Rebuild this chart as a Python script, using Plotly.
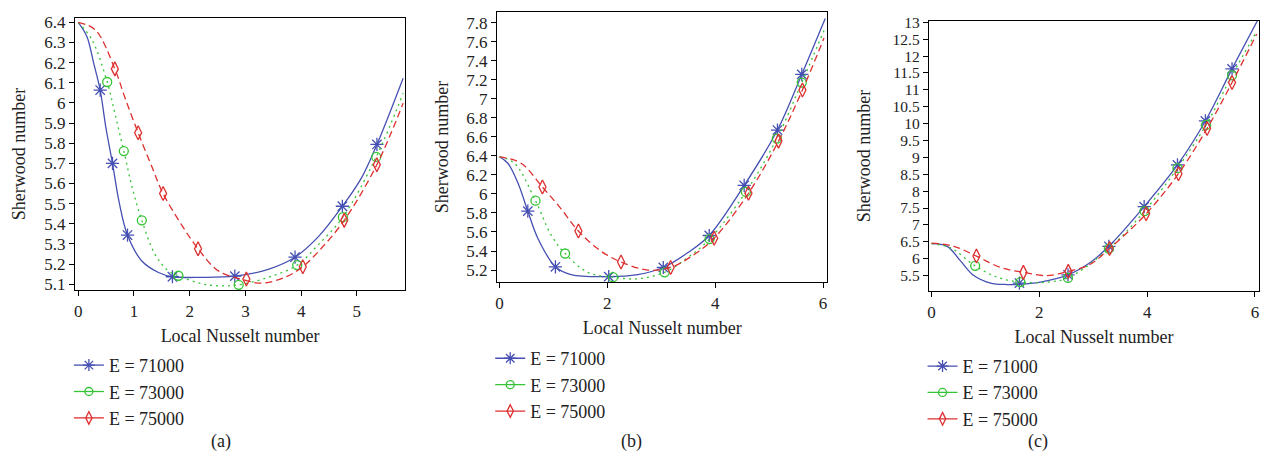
import plotly.graph_objects as go

# ---------------- data ----------------
series_names = ["E = 71000", "E = 73000", "E = 75000"]

# Panel (a)
a_blue_curve_x = [0, 0.155, 0.275, 0.394, 0.496, 0.615, 0.735, 0.884, 1.141, 1.44, 1.69, 2.216, 2.81, 3.41, 3.89, 4.31, 4.74, 5.08, 5.36, 5.83]
a_blue_curve_y = [6.4, 6.33, 6.20, 6.064, 5.878, 5.70, 5.506, 5.344, 5.215, 5.158, 5.137, 5.134, 5.14, 5.174, 5.234, 5.336, 5.487, 5.627, 5.794, 6.123]
a_blue_mark_x = [0.394, 0.615, 0.884, 1.69, 2.81, 3.89, 4.74, 5.36]
a_blue_mark_y = [6.064, 5.70, 5.344, 5.137, 5.14, 5.234, 5.487, 5.794]

a_green_curve_x = [0, 0.245, 0.52, 0.663, 0.818, 0.962, 1.141, 1.38, 1.619, 1.798, 2.216, 2.515, 2.879, 3.41, 3.93, 4.307, 4.749, 5.347, 5.83]
a_green_curve_y = [6.4, 6.314, 6.104, 5.942, 5.761, 5.587, 5.417, 5.247, 5.166, 5.142, 5.102, 5.092, 5.097, 5.134, 5.195, 5.296, 5.433, 5.732, 6.048]
a_green_mark_x = [0.52, 0.818, 1.141, 1.798, 2.879, 3.93, 4.749, 5.347]
a_green_mark_y = [6.104, 5.761, 5.417, 5.142, 5.097, 5.195, 5.433, 5.732]

a_red_curve_x = [0, 0.305, 0.657, 0.842, 1.075, 1.32, 1.523, 1.858, 2.15, 2.515, 3.017, 3.29, 3.71, 4.03, 4.367, 4.773, 5.358, 5.83]
a_red_curve_y = [6.4, 6.363, 6.169, 6.023, 5.852, 5.684, 5.550, 5.393, 5.276, 5.166, 5.118, 5.105, 5.134, 5.187, 5.28, 5.417, 5.693, 5.999]
a_red_mark_x = [0.657, 1.075, 1.523, 2.15, 3.017, 4.03, 4.773, 5.358]
a_red_mark_y = [6.169, 5.852, 5.550, 5.276, 5.126, 5.187, 5.417, 5.693]

# Panel (b)
b_blue_curve_x = [0, 0.154, 0.34, 0.525, 0.71, 1.037, 1.327, 2.025, 2.562, 3.037, 3.488, 3.889, 4.537, 5.154, 5.605, 6.04]
b_blue_curve_y = [6.39, 6.322, 6.117, 5.819, 5.535, 5.234, 5.152, 5.131, 5.152, 5.227, 5.381, 5.563, 6.089, 6.671, 7.256, 7.844]
b_blue_mark_x = [0.525, 1.037, 2.025, 3.037, 3.889, 4.537, 5.154, 5.605]
b_blue_mark_y = [5.819, 5.234, 5.131, 5.227, 5.563, 6.089, 6.671, 7.256]

b_green_curve_x = [0, 0.278, 0.667, 0.957, 1.216, 1.636, 2.105, 2.562, 3.062, 3.488, 3.895, 4.568, 5.142, 5.605, 6.018]
b_green_curve_y = [6.39, 6.322, 5.929, 5.569, 5.374, 5.176, 5.125, 5.108, 5.176, 5.33, 5.525, 6.021, 6.582, 7.17, 7.718]
b_green_mark_x = [0.667, 1.216, 2.105, 3.062, 3.895, 4.568, 5.142, 5.605]
b_green_mark_y = [5.929, 5.374, 5.125, 5.176, 5.525, 6.021, 6.582, 7.17]

b_red_curve_x = [0, 0.401, 0.796, 1.142, 1.463, 1.883, 2.253, 2.747, 3.173, 3.611, 3.981, 4.617, 5.173, 5.617, 6.018]
b_red_curve_y = [6.39, 6.322, 6.072, 5.843, 5.61, 5.398, 5.285, 5.2, 5.227, 5.364, 5.535, 6.007, 6.555, 7.092, 7.639]
b_red_mark_x = [0.796, 1.463, 2.253, 3.173, 3.981, 4.617, 5.173, 5.617]
b_red_mark_y = [6.072, 5.61, 5.285, 5.227, 5.535, 6.007, 6.555, 7.092]

# Panel (c)
c_blue_curve_x = [0, 0.29, 0.537, 0.784, 1.093, 1.40, 1.63, 2.019, 2.531, 2.944, 3.29, 3.944, 4.562, 5.08, 5.574, 6.043]
c_blue_curve_y = [6.445, 6.367, 5.934, 5.5, 5.278, 5.235, 5.24, 5.307, 5.519, 5.885, 6.367, 7.543, 8.777, 10.079, 11.621, 13.04]
c_blue_mark_x = [1.63, 2.531, 3.29, 3.944, 4.562, 5.08, 5.574]
c_blue_mark_y = [5.278, 5.519, 6.367, 7.543, 8.777, 10.079, 11.621]

c_green_curve_x = [0, 0.352, 0.809, 1.216, 1.648, 2.142, 2.531, 3.29, 3.951, 4.562, 5.093, 5.574, 6.031]
c_green_curve_y = [6.445, 6.319, 5.789, 5.452, 5.307, 5.307, 5.432, 6.3, 7.409, 8.681, 9.963, 11.429, 12.73]
c_green_mark_x = [0.809, 1.648, 2.531, 3.29, 3.951, 4.562, 5.093, 5.574]
c_green_mark_y = [5.789, 5.307, 5.432, 6.3, 7.409, 8.681, 9.963, 11.429]

c_red_curve_x = [0, 0.414, 0.833, 1.278, 1.704, 2.142, 2.537, 2.944, 3.302, 3.981, 4.58, 5.111, 5.574, 6.031]
c_red_curve_y = [6.464, 6.367, 6.078, 5.741, 5.596, 5.5, 5.625, 5.837, 6.3, 7.331, 8.517, 9.857, 11.217, 12.65]
c_red_mark_x = [0.833, 1.704, 2.537, 3.302, 3.981, 4.58, 5.111, 5.574]
c_red_mark_y = [6.078, 5.596, 5.625, 6.3, 7.331, 8.517, 9.857, 11.217]

a_yticks = [5.1, 5.2, 5.3, 5.4, 5.5, 5.6, 5.7, 5.8, 5.9, 6, 6.1, 6.2, 6.3, 6.4]
b_yticks = [5.2, 5.4, 5.6, 5.8, 6, 6.2, 6.4, 6.6, 6.8, 7, 7.2, 7.4, 7.6, 7.8]
c_yticks = [5.5, 6, 6.5, 7, 7.5, 8, 8.5, 9, 9.5, 10, 10.5, 11, 11.5, 12, 12.5, 13]
a_xticks = [0, 1, 2, 3, 4, 5]
bc_xticks = [0, 2, 4, 6]
panel_labels = ["(a)", "(b)", "(c)"]

# ---------------- styling ----------------
FONT = "Liberation Serif"
FS = 18
colors = ["#4650b2", "#35c435", "#dd2f2f"]
dashes = ["solid", "2px,4px", "7px,4px"]
mark_sym = ["asterisk-open", "circle-open", "diamond-tall-open"]
mark_size = [11, 9, 10]

panels = [
    dict(curves=[(a_blue_curve_x, a_blue_curve_y), (a_green_curve_x, a_green_curve_y), (a_red_curve_x, a_red_curve_y)],
         marks=[(a_blue_mark_x, a_blue_mark_y), (a_green_mark_x, a_green_mark_y), (a_red_mark_x, a_red_mark_y)],
         xdom=[73/1267, 404/1267], ydom=[1-290/472, 1-11/472],
         xr=[-0.06, 5.87], yr=[5.07, 6.423], xt=a_xticks, yt=a_yticks, ytfs=17, ysd=13,
         leg=(67/1267, 1-348/472), lab=(207, 458)),
    dict(curves=[(b_blue_curve_x, b_blue_curve_y), (b_green_curve_x, b_green_curve_y), (b_red_curve_x, b_red_curve_y)],
         marks=[(b_blue_mark_x, b_blue_mark_y), (b_green_mark_x, b_green_mark_y), (b_red_mark_x, b_red_mark_y)],
         xdom=[495.7/1267, 826.7/1267], ydom=[1-281.7/472, 1-5/472],
         xr=[-0.048, 6.08], yr=[5.073, 7.913], xt=bc_xticks, yt=b_yticks, ytfs=17, ysd=12,
         leg=(489/1267, 1-341/472), lab=(630, 458)),
    dict(curves=[(c_blue_curve_x, c_blue_curve_y), (c_green_curve_x, c_green_curve_y), (c_red_curve_x, c_red_curve_y)],
         marks=[(c_blue_mark_x, c_blue_mark_y), (c_green_mark_x, c_green_mark_y), (c_red_mark_x, c_red_mark_y)],
         xdom=[928.3/1267, 1259.3/1267], ydom=[1-291/472, 1-14.3/472],
         xr=[-0.05, 6.08], yr=[5.037, 13.04], xt=bc_xticks, yt=c_yticks, ytfs=15.5, ysd=17,
         leg=(922/1267, 1-349/472), lab=(1050, 458)),
]

fig = go.Figure()
layout = dict(width=1267, height=472, margin=dict(l=0, r=0, t=0, b=0),
              paper_bgcolor="white", plot_bgcolor="white",
              font=dict(family=FONT, size=FS, color="#222"), annotations=[])

for p_i, p in enumerate(panels):
    sfx = "" if p_i == 0 else str(p_i + 1)
    xa, ya = "x" + sfx, "y" + sfx
    lg = "legend" + sfx
    for s in range(3):
        cx, cy = p["curves"][s]
        fig.add_trace(go.Scatter(x=cx, y=cy, mode="lines", xaxis=xa, yaxis=ya,
                                 line=dict(color=colors[s], width=1.3, dash=dashes[s], shape="spline", smoothing=1.0),
                                 showlegend=False, hoverinfo="skip"))
        mx, my = p["marks"][s]
        fig.add_trace(go.Scatter(x=mx, y=my, mode="markers", xaxis=xa, yaxis=ya,
                                 marker=dict(symbol=mark_sym[s], size=mark_size[s], color=colors[s],
                                             line=dict(width=1.3, color=colors[s])),
                                 showlegend=False))
        fig.add_trace(go.Scatter(x=[None], y=[None], mode="lines+markers", xaxis=xa, yaxis=ya,
                                 name=series_names[s], legend=lg, legendgroup=f"{p_i}_{s}",
                                 line=dict(color=colors[s], width=1.3),
                                 marker=dict(symbol=mark_sym[s], size=mark_size[s] - 1, color=colors[s],
                                             line=dict(width=1.3, color=colors[s]))))
    axis_common = dict(showline=True, linecolor="black", linewidth=1, mirror=True,
                       ticks="outside", ticklen=5, tickcolor="black", showgrid=False, zeroline=False)
    layout["xaxis" + sfx] = dict(domain=p["xdom"], range=p["xr"], anchor=ya, tickvals=p["xt"],
                                 ticktext=[str(v) for v in p["xt"]],
                                 tickfont=dict(family=FONT, size=17, color="#222"),
                                 title=dict(text="Local Nusselt number", font=dict(family=FONT, size=FS), standoff=9),
                                 **axis_common)
    layout["yaxis" + sfx] = dict(domain=p["ydom"], range=p["yr"], anchor=xa, tickvals=p["yt"],
                                 ticktext=[f"{v:g}" for v in p["yt"]],
                                 tickfont=dict(family=FONT, size=p["ytfs"], color="#222"),
                                 title=dict(text="Sherwood number", font=dict(family=FONT, size=FS), standoff=p["ysd"]),
                                 **axis_common)
    layout[lg] = dict(x=p["leg"][0], y=p["leg"][1], xanchor="left", yanchor="top",
                      bgcolor="rgba(0,0,0,0)", font=dict(family=FONT, size=FS, color="#222"),
                      tracegroupgap=0, itemwidth=30)
    layout["annotations"].append(dict(text=panel_labels[p_i], x=p["lab"][0] / 1267, y=1 - p["lab"][1] / 472,
                                      xref="paper", yref="paper", showarrow=False,
                                      font=dict(family=FONT, size=FS, color="#222")))

fig.update_layout(**layout)
fig.write_html("out.html")
